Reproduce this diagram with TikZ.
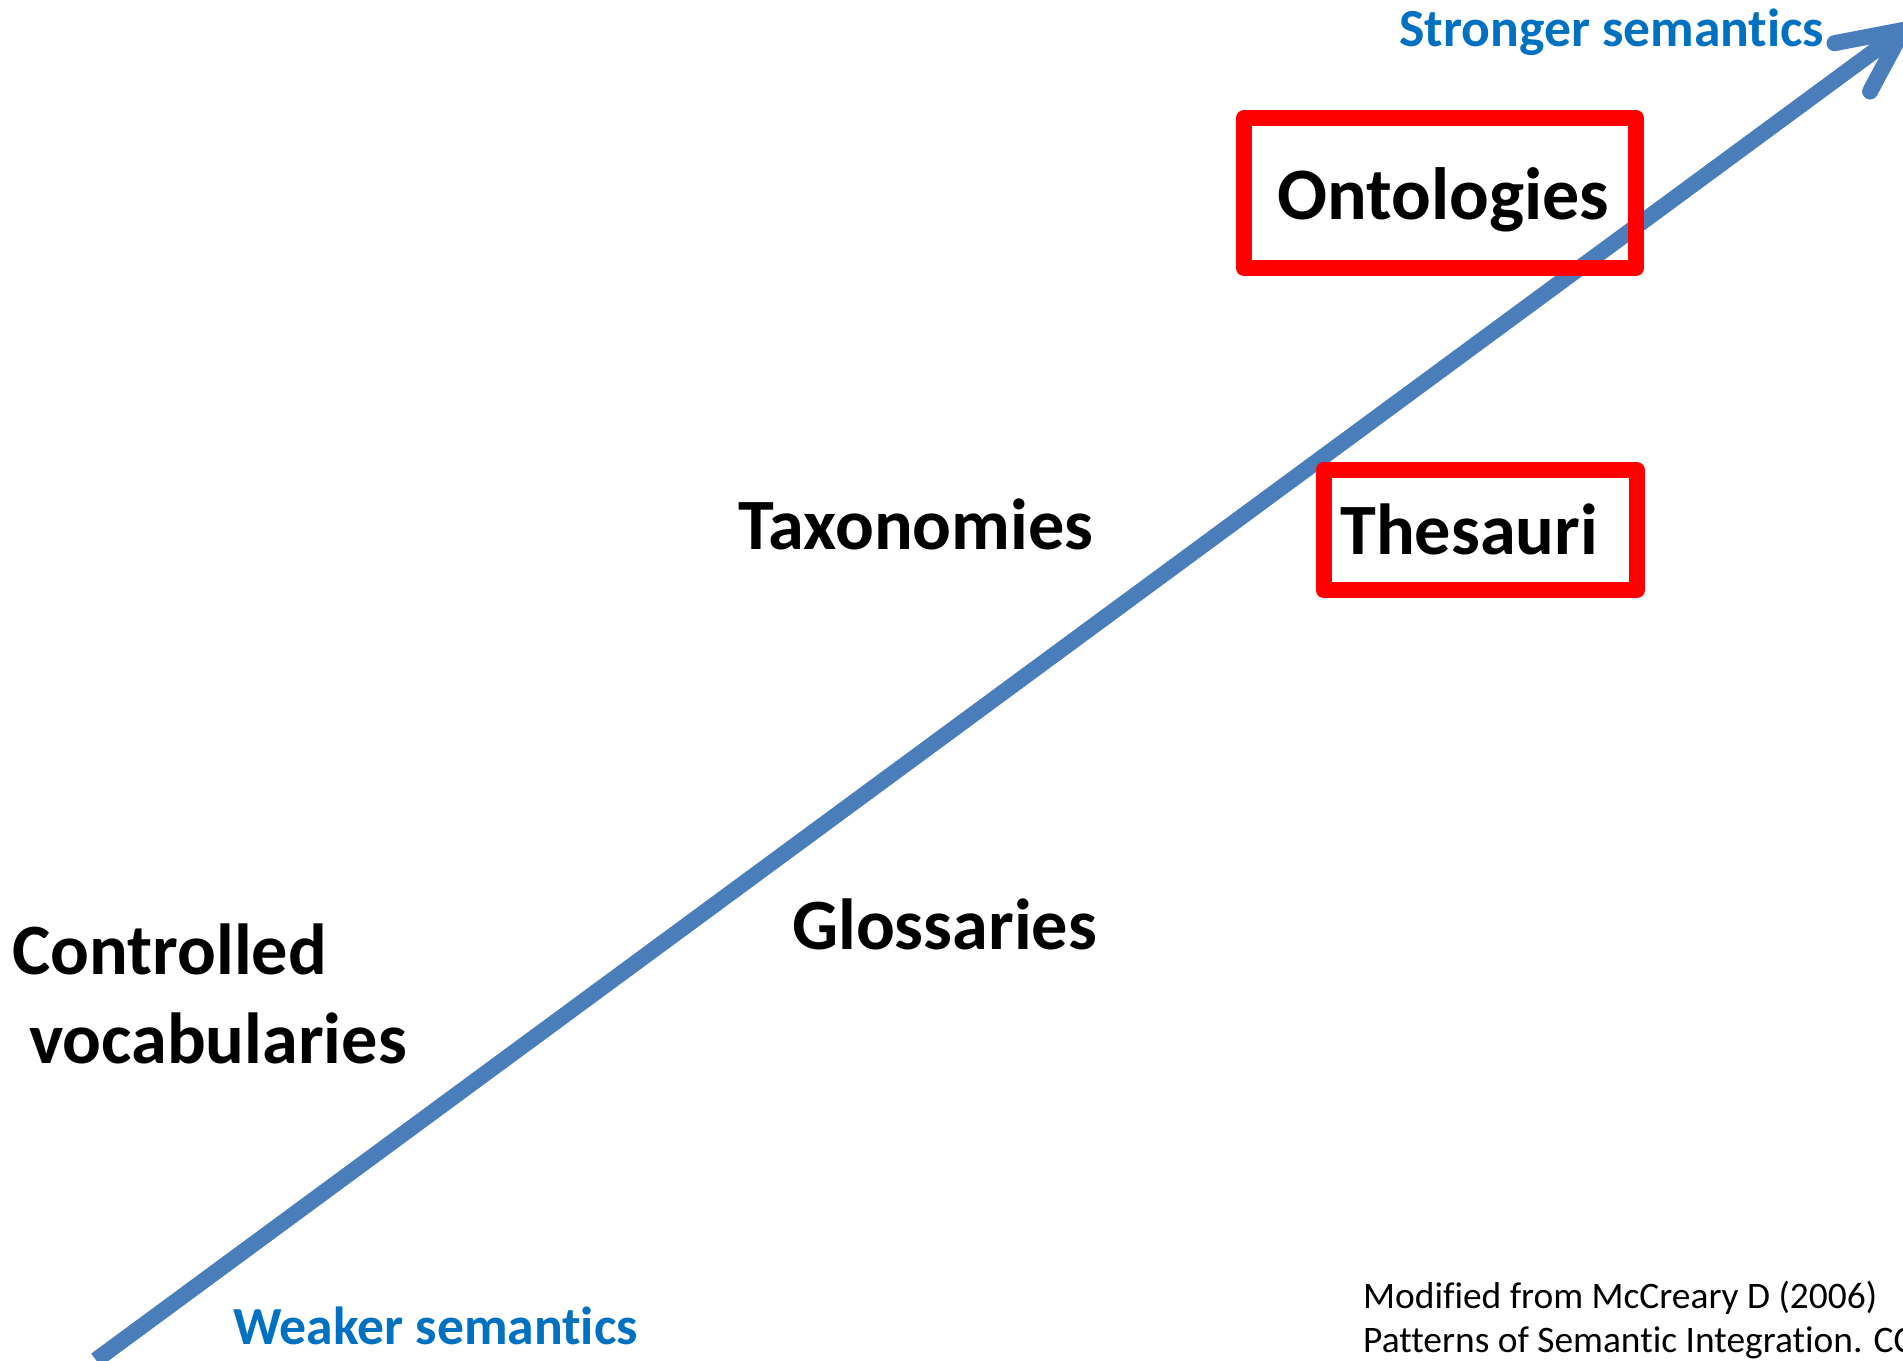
\documentclass[tikz,border=0pt]{standalone}
\usepackage{fontspec}
\setmainfont{Carlito}[Ligatures=NoCommon]
\usetikzlibrary{calc}
\definecolor{shaftblue}{HTML}{4A7EBB}
\definecolor{labelblue}{HTML}{0070C0}
\definecolor{boxred}{HTML}{FF0000}
\begin{document}
\begin{tikzpicture}[x=1pt,y=-1pt,
  term/.style={font=\fontsize{72.3}{85}\selectfont\bfseries, text=black, inner sep=0pt, anchor=base west},
  pole/.style={font=\fontsize{53.6}{60}\selectfont\bfseries, text=labelblue, inner sep=0pt, anchor=base west},
  credit/.style={font=\fontsize{37.4}{45}\selectfont, text=black, inner sep=0pt, anchor=base west},
  highlight/.style={draw=boxred, line width=16pt, line join=round, inner sep=0pt},
  axis/.style={draw=shaftblue, line width=16pt}]
\useasboundingbox (0,0) rectangle (1903,1360);
\fill[white] (0,0) rectangle (1903,1360);

% semantic axis with an open arrow head
\coordinate (weak) at (96,1360);
\coordinate (strong) at (1903,30);
\coordinate (back) at ($(strong)!63pt!(weak)$);
\coordinate (barbL) at ($(back)!30pt!90:(strong)$);
\coordinate (barbR) at ($(back)!30pt!-90:(strong)$);
\draw[axis] (weak) -- (strong);
\draw[axis, line cap=round, line join=round] (barbL) -- (strong) -- (barbR);

% highlighted categories
\node[highlight, minimum width=392pt, minimum height=150pt] (ontbox) at (1440,193) {};
\node[highlight, minimum width=313pt, minimum height=120.5pt] (thesbox) at (1480,530) {};

% axis ends
\node[pole] (strongtxt) at (1399,46) {Stronger semantics};
\node[pole] (weaktxt) at (233,1344) {Weaker semantics};

% vocabulary types
\node[term, font=\fontsize{74}{85}\selectfont\bfseries] (ont) at (1277,219) {Ontologies};
\node[term] (thes) at (1340,554) {Thesauri};
\node[term] (tax) at (738,549) {Taxonomies};
\node[term] (glos) at (792,949) {Glossaries};
\node[term] (cv1) at (12,974) {Controlled};
\node[term] (cv2) at (29,1063) {vocabularies};

% source note
\node[credit] (cred1) at (1363,1308) {Modified from McCreary D (2006)};
\node[credit] (cred2) at (1363,1352) {Patterns of Semantic Integration. CC};
\end{tikzpicture}
\end{document}
